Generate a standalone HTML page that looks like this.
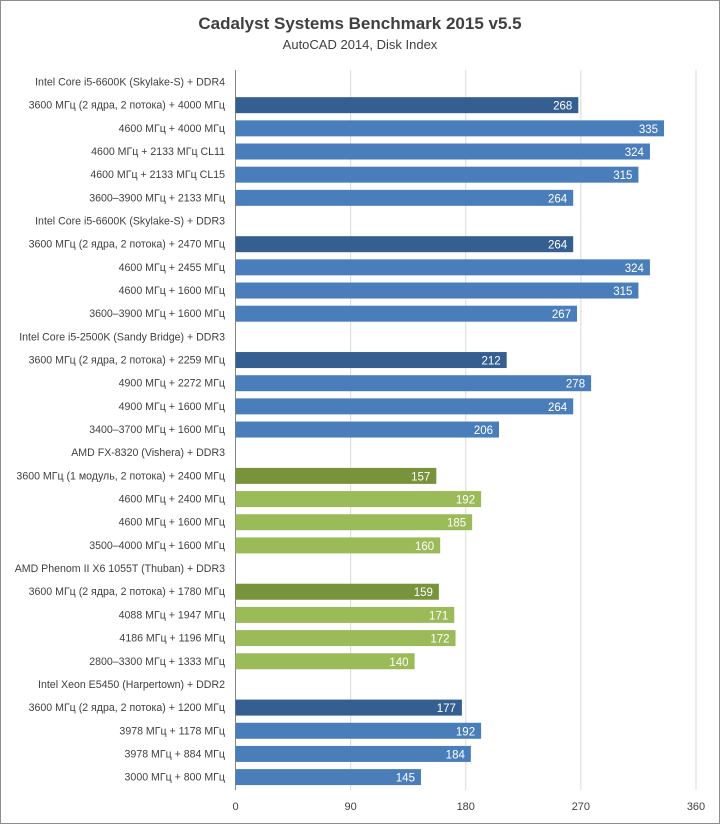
<!DOCTYPE html>
<html><head><meta charset="utf-8"><style>
body{margin:0;background:#fff}
svg{display:block;font-family:"Liberation Sans",sans-serif}
</style></head><body>
<svg id="c" width="720" height="824">
<rect x="0.5" y="0.5" width="719" height="823" fill="#fff" stroke="#8c8c8c"/>
<text x="360" y="29" text-anchor="middle" font-size="17" font-weight="bold" fill="#404040">Cadalyst Systems Benchmark 2015 v5.5</text>
<text x="360" y="49" text-anchor="middle" font-size="13" fill="#404040">AutoCAD 2014, Disk Index</text>
<g id="grid"></g><g id="bars"></g><g id="labels"></g><g id="ticks"></g>
</svg>
<script>
const categories=["Intel Core i5-6600K (Skylake-S) + DDR4","3600 МГц (2 ядра, 2 потока) + 4000 МГц","4600 МГц + 4000 МГц","4600 МГц + 2133 МГц CL11","4600 МГц + 2133 МГц CL15","3600–3900 МГц + 2133 МГц","Intel Core i5-6600K (Skylake-S) + DDR3","3600 МГц (2 ядра, 2 потока) + 2470 МГц","4600 МГц + 2455 МГц","4600 МГц + 1600 МГц","3600–3900 МГц + 1600 МГц","Intel Core i5-2500K (Sandy Bridge) + DDR3","3600 МГц (2 ядра, 2 потока) + 2259 МГц","4900 МГц + 2272 МГц","4900 МГц + 1600 МГц","3400–3700 МГц + 1600 МГц","AMD FX-8320 (Vishera) + DDR3","3600 МГц (1 модуль, 2 потока) + 2400 МГц","4600 МГц + 2400 МГц","4600 МГц + 1600 МГц","3500–4000 МГц + 1600 МГц","AMD Phenom II X6 1055T (Thuban) + DDR3","3600 МГц (2 ядра, 2 потока) + 1780 МГц","4088 МГц + 1947 МГц","4186 МГц + 1196 МГц","2800–3300 МГц + 1333 МГц","Intel Xeon E5450 (Harpertown) + DDR2","3600 МГц (2 ядра, 2 потока) + 1200 МГц","3978 МГц + 1178 МГц","3978 МГц + 884 МГц","3000 МГц + 800 МГц"];
const values=[null,268,335,324,315,264,null,264,324,315,267,null,212,278,264,206,null,157,192,185,160,null,159,171,172,140,null,177,192,184,145];
const kinds=["h","db","b","b","b","b","h","db","b","b","b","h","db","b","b","b","h","dg","g","g","g","h","dg","g","g","g","h","db","b","b","b"];
const ticks=[0,90,180,270,360];
const colors={db:"#355f91",b:"#4a7ebb",dg:"#77933c",g:"#9bbb59"};
const x0=235.5,x1=696,yTop=70,yBot=790,rowY0=82,pitch=23.17,bh=16;
const xs=v=>x0+(x1-x0)*v/360;
const ys=i=>rowY0+i*pitch;
const NS="http://www.w3.org/2000/svg";
function mk(t,a,p){const e=document.createElementNS(NS,t);for(const k in a)e.setAttribute(k,a[k]);p.appendChild(e);return e;}
const G=document.getElementById('grid'),B=document.getElementById('bars'),L=document.getElementById('labels'),T=document.getElementById('ticks');
ticks.forEach(t=>{
 const l=mk('line',{x1:xs(t),x2:xs(t),y1:yTop,y2:yBot,stroke:t===0?'#868686':'#d9d9d9','stroke-width':1},G);
 
 
 const tx=mk('text',{x:xs(t),y:810,'text-anchor':'middle','font-size':11,fill:'#404040'},T);
 tx.textContent=t;
 
 
});
categories.forEach((c,i)=>{
 const y=ys(i);
 const lb=mk('text',{x:225,y:y+3.5,'text-anchor':'end','font-size':10.6,fill:'#404040'},L);
 lb.textContent=c;
 
 
 const v=values[i];
 if(v==null)return;
 const r=mk('rect',{x:x0,y:y-bh/2,width:xs(v)-x0,height:bh,fill:colors[kinds[i]]},B);
 
 
 const vt=mk('text',{x:xs(v)-6,y:y+4.5,'text-anchor':'end','font-size':11.5,fill:'#fff'},B);
 vt.textContent=v;
 
 
});
</script>
</body></html>
